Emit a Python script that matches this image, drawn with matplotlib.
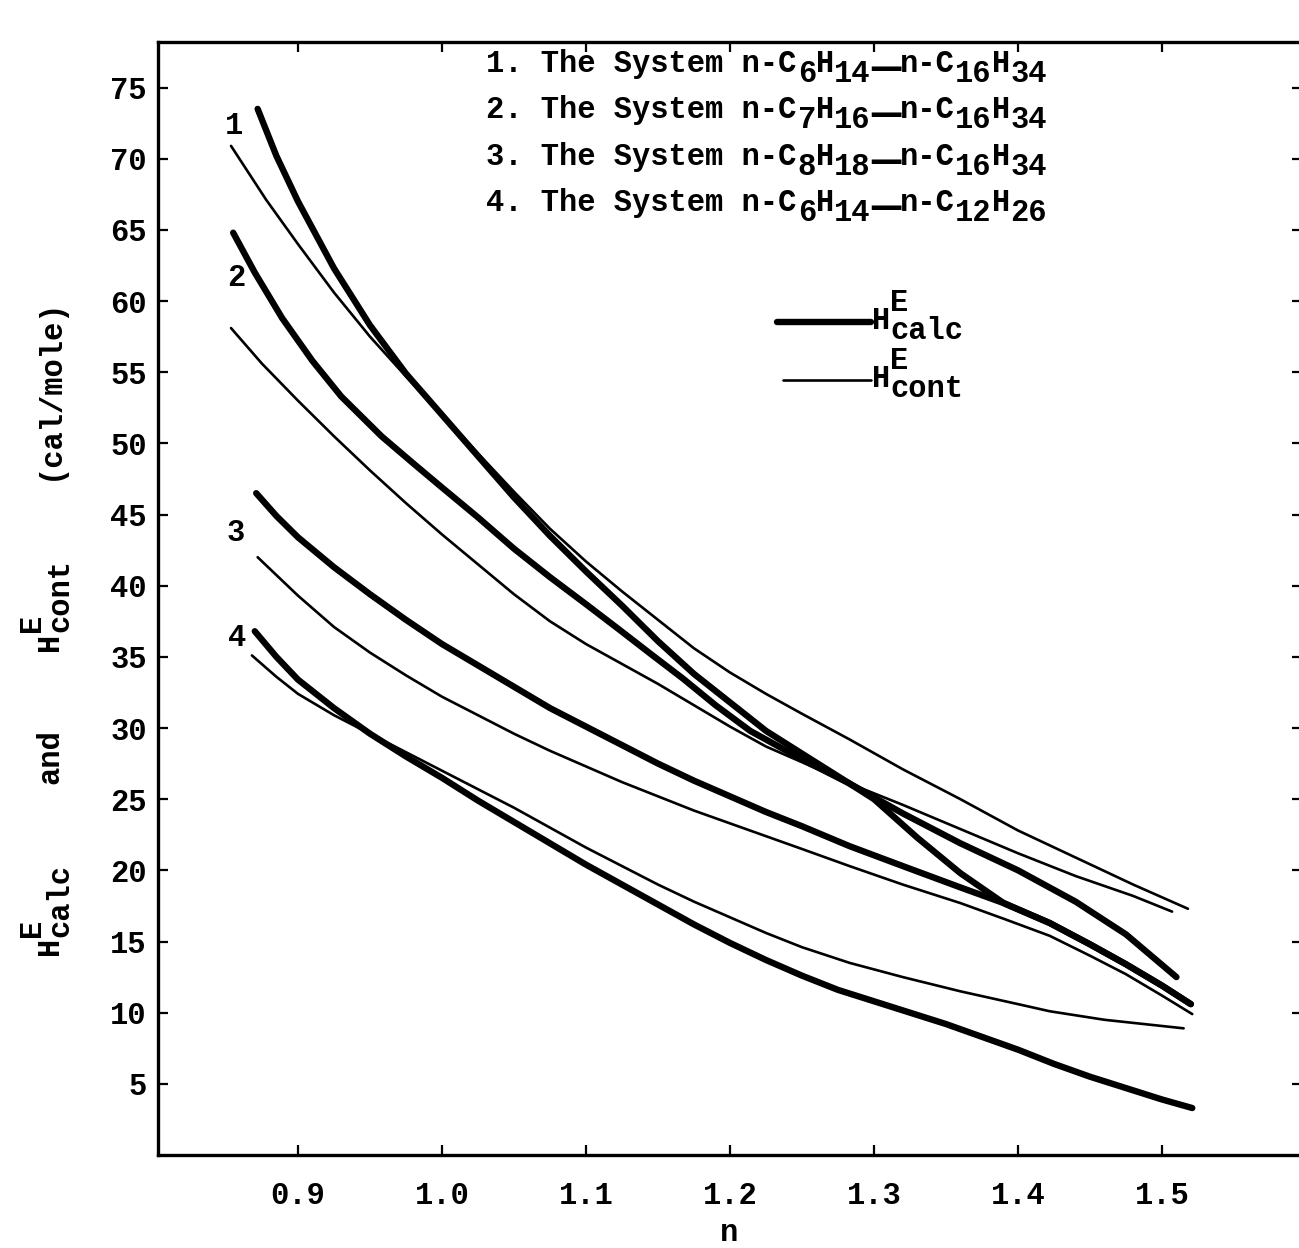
import math
import matplotlib
matplotlib.use("Agg")
import matplotlib.pyplot as plt
from matplotlib.lines import Line2D
from matplotlib.transforms import IdentityTransform

plt.rcParams['font.family'] = ['Liberation Mono', 'DejaVu Sans Mono']
plt.rcParams['font.weight'] = 'bold'

# ---------------- data ----------------
n_calc1 = [0.872, 0.885, 0.9, 0.925, 0.95, 0.975, 1.0, 1.025, 1.05, 1.075, 1.1, 1.125, 1.15, 1.175,
           1.2, 1.225, 1.25, 1.283, 1.32, 1.36, 1.4, 1.44, 1.475, 1.51]
h_calc1 = [73.5, 70.2, 67.0, 62.3, 58.3, 54.9, 52.0, 49.1, 46.2, 43.5, 41.0, 38.6, 36.1, 33.8,
           31.8, 29.8, 28.2, 26.1, 24.0, 21.9, 20.0, 17.8, 15.5, 12.5]

n_cont1 = [0.8535, 0.878, 0.9, 0.925, 0.95, 0.975, 1.0, 1.025, 1.05, 1.075, 1.1, 1.125, 1.15, 1.175,
           1.2, 1.225, 1.25, 1.283, 1.32, 1.36, 1.4, 1.44, 1.48, 1.518]
h_cont1 = [70.9, 67.1, 64.0, 60.6, 57.5, 54.7, 52.0, 49.3, 46.6, 44.0, 41.7, 39.6, 37.6, 35.6,
           33.9, 32.4, 31.0, 29.2, 27.1, 25.0, 22.8, 20.9, 19.0, 17.3]

n_calc2 = [0.855, 0.87, 0.889, 0.91, 0.93, 0.958, 0.98, 1.0, 1.025, 1.05, 1.075, 1.1, 1.122, 1.145,
           1.167, 1.19, 1.214, 1.25, 1.283, 1.3, 1.33, 1.36, 1.39, 1.422, 1.45, 1.475, 1.5, 1.52]
h_calc2 = [64.8, 62.0, 58.8, 55.8, 53.3, 50.5, 48.6, 46.9, 44.8, 42.6, 40.6, 38.7, 37.0, 35.2,
           33.5, 31.6, 29.8, 27.8, 26.1, 25.0, 22.3, 19.8, 17.7, 16.3, 14.8, 13.4, 11.9, 10.6]

n_cont2 = [0.8535, 0.875, 0.9, 0.925, 0.95, 0.975, 1.0, 1.025, 1.05, 1.075, 1.1, 1.125, 1.15, 1.175,
           1.2, 1.225, 1.25, 1.283, 1.32, 1.36, 1.4, 1.44, 1.48, 1.507]
h_cont2 = [58.1, 55.6, 53.0, 50.5, 48.1, 45.8, 43.6, 41.5, 39.4, 37.5, 35.9, 34.5, 33.1, 31.6,
           30.1, 28.7, 27.6, 26.1, 24.6, 22.9, 21.2, 19.6, 18.2, 17.1]

n_calc3 = [0.871, 0.885, 0.9, 0.925, 0.95, 0.975, 1.0, 1.025, 1.05, 1.075, 1.1, 1.125, 1.15, 1.175,
           1.2, 1.225, 1.25, 1.283, 1.32, 1.36, 1.39, 1.422, 1.45, 1.475, 1.5, 1.52]
h_calc3 = [46.5, 44.9, 43.4, 41.3, 39.4, 37.6, 35.9, 34.4, 32.9, 31.4, 30.1, 28.8, 27.5, 26.3,
           25.2, 24.1, 23.1, 21.7, 20.3, 18.8, 17.7, 16.3, 14.8, 13.4, 11.9, 10.6]

n_cont3 = [0.872, 0.9, 0.925, 0.95, 0.975, 1.0, 1.025, 1.05, 1.075, 1.1, 1.125, 1.15, 1.175,
           1.2, 1.225, 1.25, 1.283, 1.32, 1.36, 1.39, 1.422, 1.45, 1.475, 1.5, 1.521]
h_cont3 = [42.0, 39.3, 37.1, 35.3, 33.7, 32.2, 30.9, 29.6, 28.4, 27.3, 26.2, 25.2, 24.2,
           23.3, 22.4, 21.5, 20.3, 19.0, 17.7, 16.6, 15.4, 14.0, 12.7, 11.2, 9.9]

n_calc4 = [0.870, 0.885, 0.9, 0.925, 0.95, 0.975, 1.0, 1.025, 1.05, 1.075, 1.1, 1.125, 1.15, 1.175,
           1.2, 1.225, 1.25, 1.275, 1.3, 1.325, 1.35, 1.375, 1.4, 1.425, 1.45, 1.475, 1.5, 1.521]
h_calc4 = [36.8, 35.0, 33.4, 31.4, 29.6, 28.0, 26.5, 24.9, 23.4, 21.9, 20.4, 19.0, 17.6, 16.2,
           14.9, 13.7, 12.6, 11.6, 10.8, 10.0, 9.2, 8.3, 7.4, 6.4, 5.5, 4.7, 3.9, 3.3]

n_cont4 = [0.868, 0.885, 0.9, 0.925, 0.95, 0.975, 1.0, 1.025, 1.05, 1.075, 1.1, 1.125, 1.15, 1.175,
           1.2, 1.225, 1.25, 1.283, 1.32, 1.36, 1.4, 1.422, 1.46, 1.515]
h_cont4 = [35.1, 33.6, 32.4, 30.9, 29.6, 28.3, 27.0, 25.7, 24.4, 23.0, 21.6, 20.3, 19.0, 17.8,
           16.7, 15.6, 14.6, 13.5, 12.5, 11.5, 10.6, 10.1, 9.5, 8.9]

curve_ids = ["1", "2", "3", "4"]
curve_label_n = [0.8556, 0.857, 0.857, 0.858]
curve_label_h = [72.3, 61.6, 43.7, 36.3]

# legend rows: (solvent C, solvent H, solute C, solute H)
sys_numbers = ["1", "2", "3", "4"]
sys_c1 = ["6", "7", "8", "6"]
sys_h1 = ["14", "16", "18", "14"]
sys_c2 = ["16", "16", "16", "12"]
sys_h2 = ["34", "34", "34", "26"]

x_ticks = [0.9, 1.0, 1.1, 1.2, 1.3, 1.4, 1.5]
x_ticklabels = ["0.9", "1.0", "1.1", "1.2", "1.3", "1.4", "1.5"]
y_ticks = list(range(5, 80, 5))

# ---------------- figure ----------------
W, H = 1299, 1248
DPI = 100
fig = plt.figure(figsize=(W / DPI, H / DPI), dpi=DPI)
ax = fig.add_axes([158 / W, 1 - 1155 / H, (1302 - 158) / W, (1155 - 42) / H])
ax.set_xlim(0.8028, 1.5972)
ax.set_ylim(0.0, 78.2)

FS = 22.0
PX = DPI / 72.0
SUB = -0.33                  # subscript shift (em)
SUP = 0.60                   # superscript shift (em)


def rich(x_img, y_img, pieces, rot=0, fs=FS):
    """Draw monospace text pieces; x_img, y_img = baseline start in image pixels.
    piece = (text, shift_em, advance_in_chars or None, size_scale)"""
    x0, y0 = x_img, H - y_img
    th = math.radians(rot)
    ux, uy = math.cos(th), math.sin(th)
    vx, vy = -math.sin(th), math.cos(th)
    pos = 0.0
    char = 0.6 * fs * PX
    for s, shift, adv, scale in pieces:
        sh = shift * fs * PX
        if s:
            fig.text(x0 + pos * ux + sh * vx, y0 + pos * uy + sh * vy, s,
                     transform=IdentityTransform(), fontsize=fs * scale, rotation=rot,
                     rotation_mode='anchor', ha='left', va='baseline')
        if adv is not None:
            pos += adv * char


thick = dict(color="black", lw=4.6, solid_capstyle="round", solid_joinstyle="round")
thin = dict(color="black", lw=1.9, solid_capstyle="round", solid_joinstyle="round")

for n, h in [(n_calc1, h_calc1), (n_calc2, h_calc2), (n_calc3, h_calc3), (n_calc4, h_calc4)]:
    ax.plot(n, h, **thick)
for n, h in [(n_cont1, h_cont1), (n_cont2, h_cont2), (n_cont3, h_cont3), (n_cont4, h_cont4)]:
    ax.plot(n, h, **thin)

for lab, xn, yh in zip(curve_ids, curve_label_n, curve_label_h):
    ax.text(xn, yh, lab, fontsize=FS, ha="center", va="center")

# system legend text
for i in range(4):
    head = sys_numbers[i] + ". The System n-C"
    pieces = [(head, 0, len(head), 1),
              (sys_c1[i], SUB, len(sys_c1[i]), 1), ("H", 0, 1, 1), (sys_h1[i], SUB, 2, 1),
              ("\u2014", -0.30, 1.6, 1.6),
              ("n-C", 0, 3, 1), (sys_c2[i], SUB, 2, 1), ("H", 0, 1, 1), (sys_h2[i], SUB, 2, 1)]
    rich(486, 72 + i * 46.3, pieces)

# line-style legend
fig.add_artist(Line2D([777, 871], [H - 322, H - 322], transform=IdentityTransform(), **thick))
fig.add_artist(Line2D([783, 871], [H - 380, H - 380], transform=IdentityTransform(), **thin))
rich(872, 329, [("H", 0, 1, 1), ("E", SUP, None, 1), ("calc", SUB, 4, 1)])
rich(872, 387, [("H", 0, 1, 1), ("E", SUP, None, 1), ("cont", SUB, 4, 1)])

# y label (rotated, reading upward)
GAP = 4.3
ylab = [("H", 0, 1, 1), ("E", SUP, None, 1), ("calc", SUB, 4, 1), ("", 0, GAP, 1),
        ("and", 0, 3, 1), ("", 0, GAP, 1),
        ("H", 0, 1, 1), ("E", SUP, None, 1), ("cont", SUB, 4, 1), ("", 0, GAP, 1),
        ("(cal/mole)", 0, 10, 1)]
rich(58, 955, ylab, rot=90)

# x label
fig.text(729 / W, 1 - 1233 / H, "n", fontsize=FS, ha="center", va="center")

# axes styling
ax.set_xticks(x_ticks)
ax.set_xticklabels(x_ticklabels)
ax.set_yticks(y_ticks)
ax.tick_params(axis="both", direction="in", length=7, width=1.6, labelsize=FS,
               top=True, right=True)
ax.tick_params(axis="x", pad=19)
ax.tick_params(axis="y", pad=8)
for sp in ax.spines.values():
    sp.set_linewidth(2.4)

fig.savefig("out.png", dpi=DPI)
